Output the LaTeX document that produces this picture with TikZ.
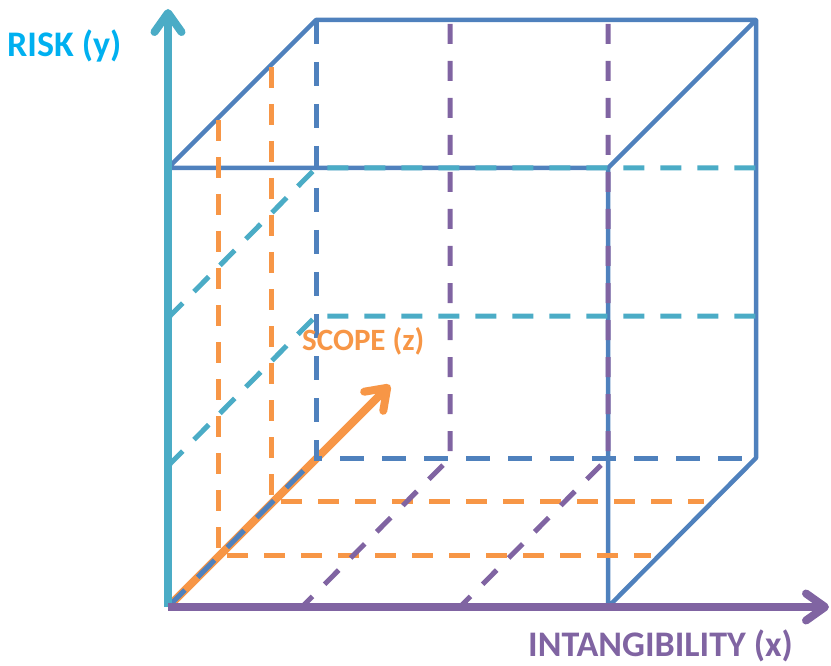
\documentclass[tikz,border=0pt]{standalone}
\usepackage{fontspec}
\setmainfont{Carlito}
\usetikzlibrary{arrows.meta}
\definecolor{cubeblue}{HTML}{4F81BD}
\definecolor{riskcyan}{HTML}{4BACC6}
\definecolor{risklabel}{HTML}{00B0F0}
\definecolor{intpurple}{HTML}{8064A2}
\definecolor{scopeorange}{HTML}{F79646}
\begin{document}
\begin{tikzpicture}[x=1pt,y=-1pt,
  cubeline/.style={cubeblue,line width=4.5pt,line join=round},
  hidden/.style={cubeblue,line width=5pt,dash pattern=on 24pt off 18pt},
  zlevel/.style={scopeorange,line width=5pt,dash pattern=on 21pt off 16pt},
  ylevel/.style={riskcyan,line width=5pt,dash pattern=on 21pt off 16pt},
  xlevel/.style={intpurple,line width=5pt,dash pattern=on 20pt off 17pt},
  axis/.style={line width=8pt,-{Straight Barb[length=19pt,width=27pt,round]}},
  axislabel/.style={font=\bfseries\fontsize{36}{43}\selectfont,anchor=base west,inner sep=0pt}]
  \useasboundingbox (0,0) rectangle (831,666);
  % sommets du cube
  \coordinate (O) at (168,607);
  \coordinate (B) at (608,607);
  \coordinate (C) at (608,168);
  \coordinate (D) at (168,168);
  \coordinate (E) at (316,458);
  \coordinate (F) at (756,458);
  \coordinate (G) at (756,20);
  \coordinate (H) at (316,20);
  \coordinate (ytip) at (168,9);
  \coordinate (xtip) at (829,607);
  \coordinate (ztip) at (390,385);
  % axe de portée (z)
  \draw[axis,scopeorange] (O) -- (ztip);
  % arêtes visibles
  \draw[cubeline] (D) -- (H) -- (G) -- (C) -- cycle;
  \draw[cubeline] (C) -- (B) -- (F) -- (G);
  % arêtes cachées
  \draw[hidden] (H) -- (E) -- (F);
  \draw[hidden] (O) -- (E);
  % niveaux de portée
  \draw[zlevel] (218,120) -- (218,555) -- (651,555);
  \draw[zlevel] (271,67) -- (271,501) -- (704,501);
  % niveaux de risque
  \draw[ylevel] (168,466) -- (316,316) -- (756,316);
  \draw[ylevel] (168,318) -- (316,168) -- (756,168);
  % niveaux d'intangibilité
  \draw[xlevel] (450,24) -- (450,458) -- (302,607);
  \draw[xlevel] (608,24) -- (608,458) -- (460,607);
  % axes
  \draw[axis,riskcyan] (O) -- (ytip);
  \draw[axis,intpurple] (O) -- (xtip);
  % titres
  \node[axislabel,risklabel] (risk) at (7,57) {RISK (y)};
  \node[axislabel,intpurple] (intang) at (528,656) {INTANGIBILITY (x)};
  \node[axislabel,scopeorange,font=\bfseries\fontsize{31}{37}\selectfont] (scope) at (302,350) {SCOPE (z)};
\end{tikzpicture}
\end{document}
